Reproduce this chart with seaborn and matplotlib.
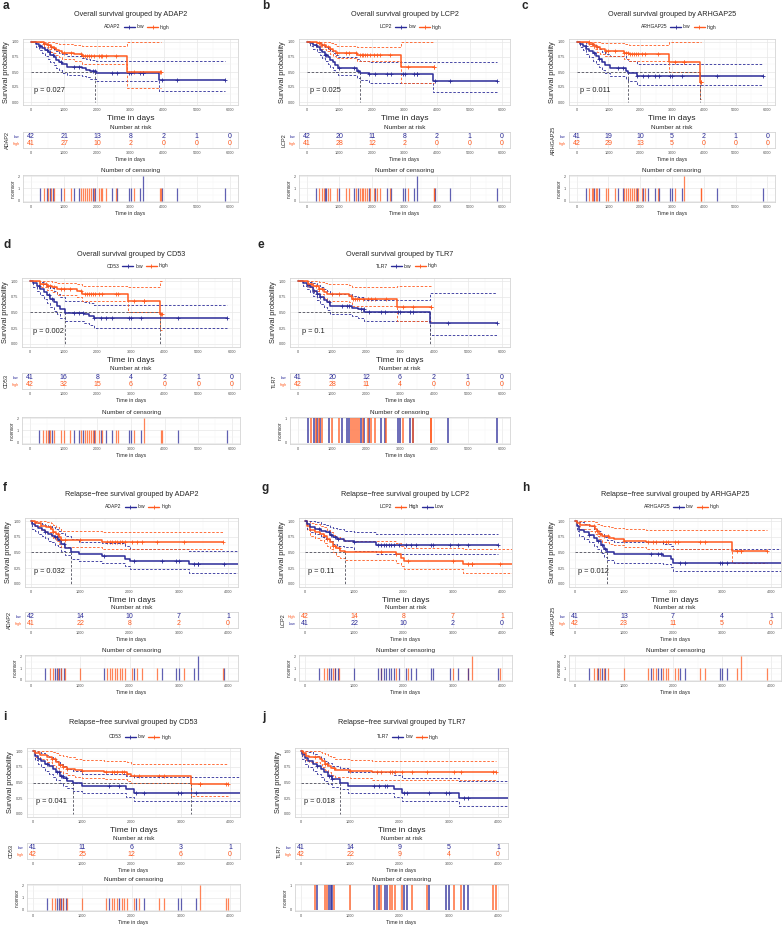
import numpy as np
import pandas as pd
import matplotlib
matplotlib.use("Agg")
import matplotlib.pyplot as plt
import seaborn as sns
from collections import Counter
from matplotlib.lines import Line2D
from matplotlib.ticker import MultipleLocator

LOW_COLOR = "#2B2B98"
HIGH_COLOR = "#FF5A1F"
MEDIAN_COLOR = "#4D4D5A"

OS_TICKS = [0, 1000, 2000, 3000, 4000, 5000, 6000]
RFS_TICKS = [0, 1000, 2000, 3000, 4000]

# ---------------- a: overall survival, ADAP2 ----------------
A_LOW_T = [0, 150, 250, 330, 420, 500, 580, 680, 760, 850, 950, 1080, 1550, 1650, 1780, 1950, 3870]
A_LOW_S = [1, .97, .93, .90, .87, .83, .79, .75, .70, .66, .63, .58, .56, .54, .52, .49, .37]
A_LOW_UP = [1, 1, 1, .99, .97, .95, .92, .89, .85, .82, .80, .76, .74, .72, .70, .69, .69]
A_LOW_LO = [1, .92, .86, .81, .77, .72, .67, .62, .57, .53, .49, .45, .43, .41, .39, .35, .18]
A_LOW_CENS = [280, 480, 560, 650, 920, 1300, 1450, 1860, 1940, 2450, 2600, 2950, 3000, 3300, 3380, 3380, 3950, 4400, 5850]
A_HIGH_T = [0, 380, 500, 600, 680, 760, 850, 930, 1300, 1530, 2880]
A_HIGH_S = [1, .97, .95, .92, .90, .87, .85, .82, .80, .77, .50]
A_HIGH_UP = [1, 1, 1, 1, .99, .98, .97, .96, .95, .93, 1.0]
A_HIGH_LO = [1, .91, .88, .84, .81, .78, .75, .72, .69, .63, .23]
A_HIGH_CENS = [380, 520, 600, 700, 1000, 1200, 1500, 1560, 1620, 1680, 1740, 1800, 1900, 2050, 2100, 2150, 2250, 2550, 3100, 3900, 3920]
A_RISK_LOW = [42, 21, 13, 8, 2, 1, 0]
A_RISK_HIGH = [41, 27, 10, 2, 0, 0, 0]

# ---------------- b: overall survival, LCP2 ----------------
B_LOW_T = [0, 100, 200, 300, 400, 480, 560, 640, 720, 800, 880, 960, 1550, 1620, 1900, 3870]
B_LOW_S = [1, .98, .95, .91, .87, .83, .79, .75, .70, .66, .62, .57, .52, .49, .46, .35]
B_LOW_UP = [1, 1, 1, 1, .98, .95, .92, .89, .85, .82, .79, .75, .71, .69, .66, .66]
B_LOW_LO = [1, .94, .89, .83, .78, .73, .68, .63, .58, .54, .50, .45, .40, .37, .32, .17]
B_LOW_CENS = [280, 560, 600, 1000, 1450, 1560, 1900, 2100, 2450, 2600, 2950, 3000, 3300, 3380, 3380, 3950, 4400, 5850]
B_HIGH_T = [0, 300, 450, 600, 700, 800, 900, 1550, 2880]
B_HIGH_S = [1, .98, .95, .92, .88, .85, .82, .79, .59]
B_HIGH_UP = [1, 1, 1, 1, .98, .96, .94, .92, 1.0]
B_HIGH_LO = [1, .94, .89, .85, .80, .77, .73, .69, .32]
B_HIGH_CENS = [380, 480, 520, 650, 700, 920, 1200, 1300, 1500, 1620, 1680, 1740, 1800, 1860, 1940, 2050, 2150, 2250, 2550, 3100, 3900, 3920]
B_RISK_LOW = [42, 20, 11, 8, 2, 1, 0]
B_RISK_HIGH = [41, 28, 12, 2, 0, 0, 0]

# ---------------- c: overall survival, ARHGAP25 ----------------
C_LOW_T = [0, 100, 200, 300, 400, 500, 600, 700, 800, 900, 1050, 1550, 1620, 1900]
C_LOW_S = [1, .97, .93, .89, .85, .81, .77, .72, .67, .62, .57, .52, .49, .44]
C_LOW_UP = [1, 1, 1, .99, .97, .95, .92, .88, .84, .80, .76, .72, .69, .64]
C_LOW_LO = [1, .92, .86, .80, .75, .69, .64, .59, .53, .48, .43, .38, .35, .28]
C_LOW_CENS = [280, 560, 700, 1300, 1450, 1900, 2100, 2250, 2450, 2600, 2950, 3000, 3300, 4400, 5850]
C_HIGH_T = [0, 400, 550, 650, 750, 900, 1500, 1650, 2900, 3870]
C_HIGH_S = [1, .97, .94, .91, .88, .85, .82, .80, .66, .33]
C_HIGH_UP = [1, 1, 1, 1, .99, .98, .96, .95, 1.0, 1.0]
C_HIGH_LO = [1, .93, .88, .84, .80, .76, .72, .69, .50, .05]
C_HIGH_CENS = [380, 480, 520, 600, 650, 920, 1000, 1200, 1500, 1560, 1620, 1680, 1740, 1800, 1860, 1940, 2050, 2150, 2550, 3100, 3380, 3380, 3900, 3920]
C_RISK_LOW = [41, 19, 10, 5, 2, 1, 0]
C_RISK_HIGH = [42, 29, 13, 5, 0, 0, 0]

# ---------------- d: overall survival, CD53 ----------------
D_LOW_T = [0, 100, 200, 300, 400, 500, 600, 700, 800, 900, 1050, 1600, 1750, 1900]
D_LOW_S = [1, .97, .93, .88, .83, .78, .72, .66, .61, .55, .49, .47, .44, .41]
D_LOW_UP = [1, 1, 1, .99, .96, .93, .89, .84, .79, .74, .69, .67, .65, .62]
D_LOW_LO = [1, .91, .85, .78, .71, .65, .59, .53, .47, .41, .36, .33, .30, .26]
D_LOW_CENS = [280, 560, 650, 1300, 1450, 1560, 1900, 2100, 2250, 2450, 2950, 3000, 3300, 4400, 5850]
D_HIGH_T = [0, 300, 500, 650, 800, 1400, 1550, 2900, 3870]
D_HIGH_S = [1, .96, .93, .90, .87, .84, .80, .68, .47]
D_HIGH_UP = [1, 1, 1, .99, .97, .95, .93, .90, 1.0]
D_HIGH_LO = [1, .91, .86, .82, .78, .74, .68, .50, .22]
D_HIGH_CENS = [380, 480, 520, 600, 700, 920, 1000, 1200, 1500, 1620, 1680, 1740, 1800, 1860, 1940, 2050, 2150, 2550, 2600, 3100, 3380, 3380, 3900, 3920]
D_RISK_LOW = [41, 16, 8, 4, 2, 1, 0]
D_RISK_HIGH = [42, 32, 15, 6, 0, 0, 0]

# ---------------- e: overall survival, TLR7 ----------------
E_LOW_T = [0, 150, 250, 350, 450, 550, 650, 750, 850, 950, 1600, 1750, 1950, 3870]
E_LOW_S = [1, .97, .94, .90, .85, .80, .75, .70, .66, .60, .57, .55, .51, .34]
E_LOW_UP = [1, 1, 1, .99, .97, .94, .91, .87, .84, .79, .76, .74, .70, .81]
E_LOW_LO = [1, .92, .87, .82, .76, .70, .64, .59, .54, .48, .44, .42, .36, .14]
E_LOW_CENS = [280, 480, 560, 650, 920, 1300, 1450, 1500, 1860, 1940, 2100, 2450, 2550, 2950, 3000, 3300, 3380, 4400, 5850]
E_HIGH_T = [0, 300, 450, 600, 750, 850, 1500, 1600, 2900]
E_HIGH_S = [1, .96, .92, .87, .83, .80, .77, .72, .58]
E_HIGH_UP = [1, 1, 1, .99, .97, .95, .94, .91, .93]
E_HIGH_LO = [1, .91, .85, .79, .73, .69, .66, .61, .37]
E_HIGH_CENS = [380, 520, 600, 700, 1000, 1200, 1560, 1620, 1680, 1740, 1800, 1900, 2050, 2150, 2250, 2600, 3100, 3380, 3900, 3920]
E_RISK_LOW = [41, 20, 12, 6, 2, 1, 0]
E_RISK_HIGH = [42, 28, 11, 4, 0, 0, 0]

# ---------------- f: relapse-free survival, ADAP2 ----------------
F_LOW_T = [0, 30, 80, 150, 220, 280, 350, 420, 480, 550, 620, 700, 820, 970, 1450, 1900, 2000, 3200]
F_LOW_S = [1, .95, .92, .89, .86, .83, .80, .77, .74, .70, .64, .57, .50, .47, .45, .40, .36, .31]
F_LOW_UP = [1, 1, .99, .97, .96, .94, .92, .90, .88, .85, .81, .76, .71, .67, .65, .60, .56, .52]
F_LOW_LO = [1, .88, .84, .80, .76, .73, .69, .66, .62, .58, .53, .46, .40, .36, .34, .28, .23, .17]
F_LOW_CENS = [280, 480, 520, 560, 600, 680, 1480, 2100, 2650, 2950, 3000, 3300, 3380, 3380, 3920, 4400]
F_HIGH_T = [0, 80, 200, 300, 400, 450, 500, 560, 620, 1450]
F_HIGH_S = [1, .97, .93, .90, .87, .83, .79, .75, .70, .67]
F_HIGH_UP = [1, 1, 1, .99, .97, .94, .91, .88, .85, .83]
F_HIGH_LO = [1, .92, .86, .82, .78, .73, .69, .64, .59, .55]
F_HIGH_CENS = [380, 450, 540, 620, 700, 1000, 1550, 1600, 1650, 1700, 1750, 1800, 1850, 1900, 2050, 2150, 2250, 2550, 3100, 3900]
F_RISK_LOW = [42, 14, 10, 7, 1]
F_RISK_HIGH = [41, 22, 8, 2, 0]

# ---------------- g: relapse-free survival, LCP2 (High / Low) ----------------
G_LOW_T = [0, 40, 100, 200, 320, 420, 500, 560, 650, 800, 1000, 1450]
G_LOW_S = [1, .95, .91, .88, .85, .82, .78, .75, .72, .69, .66, .62]
G_LOW_UP = [1, 1, 1, .98, .96, .94, .91, .89, .87, .85, .82, .79]
G_LOW_LO = [1, .88, .83, .79, .75, .72, .68, .64, .61, .58, .53, .48]
G_LOW_CENS = [280, 480, 520, 600, 680, 1000, 1480, 1550, 1600, 1650, 1700, 1750, 1800, 1900, 2050, 2150, 2250, 2550, 2600, 2950, 3100, 3300, 3920]
G_HIGH_T = [0, 40, 100, 200, 300, 380, 440, 500, 560, 640, 720, 820, 1850, 1950, 2000, 3200]
G_HIGH_S = [1, .93, .86, .83, .80, .76, .71, .66, .61, .57, .53, .50, .47, .42, .37, .31]
G_HIGH_UP = [1, 1, .97, .95, .93, .90, .86, .82, .78, .75, .71, .68, .65, .61, .57, .56]
G_HIGH_LO = [1, .86, .77, .73, .70, .65, .60, .55, .50, .45, .41, .38, .34, .29, .24, .17]
G_HIGH_CENS = [380, 450, 560, 620, 700, 1550, 1850, 2100, 3000, 3300, 3380, 3380, 3950, 4400]
G_RISK_HIGH = [42, 14, 8, 7, 1]
G_RISK_LOW = [41, 22, 10, 2, 0]

# ---------------- h: relapse-free survival, ARHGAP25 ----------------
H_LOW_T = [0, 40, 80, 180, 280, 380, 460, 530, 600, 660, 800, 1800, 1950, 2000]
H_LOW_S = [1, .92, .86, .82, .78, .73, .68, .62, .56, .50, .47, .45, .40, .33]
H_LOW_UP = [1, 1, .98, .95, .92, .88, .84, .79, .74, .70, .66, .64, .60, .55]
H_LOW_LO = [1, .85, .77, .72, .67, .61, .56, .49, .43, .38, .33, .32, .27, .20]
H_LOW_CENS = [280, 480, 560, 620, 1550, 1700, 1750, 2150, 2250, 2950, 3000, 3100, 4400]
H_HIGH_T = [0, 50, 100, 300, 400, 450, 500, 560, 700, 800, 1000, 1450, 3200]
H_HIGH_S = [1, .97, .94, .92, .88, .85, .80, .76, .73, .71, .69, .66, .53]
H_HIGH_UP = [1, 1, 1, 1, .98, .96, .94, .92, .90, .89, .88, .86, .86]
H_HIGH_LO = [1, .92, .87, .84, .80, .76, .71, .67, .64, .62, .58, .55, .33]
H_HIGH_CENS = [380, 450, 520, 600, 680, 1000, 1480, 1600, 1650, 1800, 1850, 1900, 2050, 2100, 2550, 2650, 3300, 3380, 3380, 3920]
H_RISK_LOW = [41, 13, 7, 4, 1]
H_RISK_HIGH = [42, 23, 11, 5, 0]

# ---------------- i: relapse-free survival, CD53 ----------------
I_LOW_T = [0, 40, 100, 160, 250, 330, 400, 460, 540, 620, 700, 820, 1000, 1880, 2050]
I_LOW_S = [1, .93, .88, .85, .80, .76, .71, .66, .61, .57, .53, .49, .45, .40, .34]
I_LOW_UP = [1, 1, .99, .97, .94, .91, .88, .84, .80, .76, .72, .68, .64, .60, .58]
I_LOW_LO = [1, .86, .79, .75, .69, .64, .59, .54, .49, .45, .41, .37, .33, .27, .20]
I_LOW_CENS = [280, 480, 520, 560, 600, 680, 1550, 1750, 2100, 2250, 2950, 3000, 3300, 4400]
I_HIGH_T = [0, 50, 150, 280, 380, 460, 530, 600, 700, 850, 1000, 1450, 1900, 1980, 3200]
I_HIGH_S = [1, .97, .94, .91, .87, .82, .78, .75, .72, .70, .68, .66, .63, .60, .48]
I_HIGH_UP = [1, 1, 1, 1, .99, .97, .94, .92, .90, .88, .86, .84, .82, .80, .80]
I_HIGH_LO = [1, .91, .87, .83, .78, .73, .68, .65, .62, .59, .57, .55, .52, .49, .29]
I_HIGH_CENS = [380, 450, 540, 620, 700, 1000, 1480, 1600, 1650, 1700, 1800, 1850, 1900, 2050, 2150, 2550, 2650, 3380, 3380, 3920, 3950]
I_RISK_LOW = [41, 11, 6, 3, 1]
I_RISK_HIGH = [42, 25, 12, 6, 0]

# ---------------- j: relapse-free survival, TLR7 ----------------
J_LOW_T = [0, 30, 90, 150, 240, 330, 410, 470, 550, 640, 800, 950, 1880, 2050, 3200]
J_LOW_S = [1, .95, .89, .85, .80, .76, .71, .66, .61, .56, .50, .45, .40, .34, .26]
J_LOW_UP = [1, 1, 1, .98, .95, .92, .89, .85, .81, .77, .73, .67, .62, .57, .53]
J_LOW_LO = [1, .88, .80, .74, .69, .63, .58, .53, .48, .43, .39, .33, .27, .21, .12]
J_LOW_CENS = [330, 560, 600, 640, 1480, 1580, 1700, 1750, 2100, 2150, 2600, 2950, 3000, 3300, 3380, 4400]
J_HIGH_T = [0, 40, 100, 160, 380, 430, 480, 540, 600, 700, 1000, 1450]
J_HIGH_S = [1, .97, .93, .90, .88, .84, .80, .76, .73, .70, .69, .67]
J_HIGH_UP = [1, 1, 1, 1, .99, .97, .95, .92, .90, .88, .86, .84]
J_HIGH_LO = [1, .92, .86, .82, .79, .74, .70, .66, .62, .59, .57, .54]
J_HIGH_CENS = [280, 480, 520, 680, 1000, 1550, 1620, 1800, 1850, 1900, 2050, 2250, 2550, 3100, 3250, 3900, 3950]
J_RISK_LOW = [41, 14, 9, 5, 1]
J_RISK_HIGH = [42, 22, 9, 4, 0]

P_VALUES = ["0.027", "0.025", "0.011", "0.002", "0.1", "0.032", "0.11", "0.012", "0.041", "0.018"]
MEDIANS = [[1940], [1620], [1620, 3870], [1050, 3870], [3870], [820], [820], [660], [820, 3200], [800]]
GENES = ["ADAP2", "LCP2", "ARHGAP25", "CD53", "TLR7", "ADAP2", "LCP2", "ARHGAP25", "CD53", "TLR7"]
LETTERS = list("abcdefghij")


def grp(label, color, t, s, up, lo, cens, risk):
    return dict(label=label, color=color, t=t, s=s, up=up, lo=lo, cens=cens, risk=risk)


GROUPS = [
    [grp("low", LOW_COLOR, A_LOW_T, A_LOW_S, A_LOW_UP, A_LOW_LO, A_LOW_CENS, A_RISK_LOW),
     grp("high", HIGH_COLOR, A_HIGH_T, A_HIGH_S, A_HIGH_UP, A_HIGH_LO, A_HIGH_CENS, A_RISK_HIGH)],
    [grp("low", LOW_COLOR, B_LOW_T, B_LOW_S, B_LOW_UP, B_LOW_LO, B_LOW_CENS, B_RISK_LOW),
     grp("high", HIGH_COLOR, B_HIGH_T, B_HIGH_S, B_HIGH_UP, B_HIGH_LO, B_HIGH_CENS, B_RISK_HIGH)],
    [grp("low", LOW_COLOR, C_LOW_T, C_LOW_S, C_LOW_UP, C_LOW_LO, C_LOW_CENS, C_RISK_LOW),
     grp("high", HIGH_COLOR, C_HIGH_T, C_HIGH_S, C_HIGH_UP, C_HIGH_LO, C_HIGH_CENS, C_RISK_HIGH)],
    [grp("low", LOW_COLOR, D_LOW_T, D_LOW_S, D_LOW_UP, D_LOW_LO, D_LOW_CENS, D_RISK_LOW),
     grp("high", HIGH_COLOR, D_HIGH_T, D_HIGH_S, D_HIGH_UP, D_HIGH_LO, D_HIGH_CENS, D_RISK_HIGH)],
    [grp("low", LOW_COLOR, E_LOW_T, E_LOW_S, E_LOW_UP, E_LOW_LO, E_LOW_CENS, E_RISK_LOW),
     grp("high", HIGH_COLOR, E_HIGH_T, E_HIGH_S, E_HIGH_UP, E_HIGH_LO, E_HIGH_CENS, E_RISK_HIGH)],
    [grp("low", LOW_COLOR, F_LOW_T, F_LOW_S, F_LOW_UP, F_LOW_LO, F_LOW_CENS, F_RISK_LOW),
     grp("high", HIGH_COLOR, F_HIGH_T, F_HIGH_S, F_HIGH_UP, F_HIGH_LO, F_HIGH_CENS, F_RISK_HIGH)],
    [grp("High", HIGH_COLOR, G_HIGH_T, G_HIGH_S, G_HIGH_UP, G_HIGH_LO, G_HIGH_CENS, G_RISK_HIGH),
     grp("Low", LOW_COLOR, G_LOW_T, G_LOW_S, G_LOW_UP, G_LOW_LO, G_LOW_CENS, G_RISK_LOW)],
    [grp("low", LOW_COLOR, H_LOW_T, H_LOW_S, H_LOW_UP, H_LOW_LO, H_LOW_CENS, H_RISK_LOW),
     grp("high", HIGH_COLOR, H_HIGH_T, H_HIGH_S, H_HIGH_UP, H_HIGH_LO, H_HIGH_CENS, H_RISK_HIGH)],
    [grp("low", LOW_COLOR, I_LOW_T, I_LOW_S, I_LOW_UP, I_LOW_LO, I_LOW_CENS, I_RISK_LOW),
     grp("high", HIGH_COLOR, I_HIGH_T, I_HIGH_S, I_HIGH_UP, I_HIGH_LO, I_HIGH_CENS, I_RISK_HIGH)],
    [grp("low", LOW_COLOR, J_LOW_T, J_LOW_S, J_LOW_UP, J_LOW_LO, J_LOW_CENS, J_RISK_LOW),
     grp("high", HIGH_COLOR, J_HIGH_T, J_HIGH_S, J_HIGH_UP, J_HIGH_LO, J_HIGH_CENS, J_RISK_HIGH)],
]

# layout in pixels: rows (letter, title, legend, km top/bottom, risk top/bottom, cens top/bottom)
W, H = 783, 925
ROWS = [
    dict(letter=6, title=15, legend=27, km=(39, 105), risk=(132, 148), cens=(175, 202)),
    dict(letter=245, title=254, legend=266, km=(278, 347), risk=(373, 389), cens=(417, 444)),
    dict(letter=488, title=494, legend=507, km=(518, 587), risk=(612, 628), cens=(655, 681)),
    dict(letter=717, title=723, legend=737, km=(748, 817), risk=(843, 859), cens=(884, 911)),
]
PANEL_POS = [  # (row, x0, x1, letter x)
    (0, 23, 238, 3), (0, 299, 510, 262), (0, 569, 775, 522),
    (1, 22, 240, 3), (1, 290, 510, 258),
    (2, 25, 238, 3), (2, 299, 512, 262), (2, 569, 781, 522),
    (3, 27, 240, 3), (3, 295, 508, 262),
]

sns.set_theme(style="whitegrid")
plt.rcParams["font.family"] = ["Liberation Sans", "DejaVu Sans"]

fig = plt.figure(figsize=(W / 100, H / 100), dpi=100)
fig.patch.set_facecolor("white")


def px_axes(x0, x1, y0, y1):
    return fig.add_axes([x0 / W, 1 - y1 / H, (x1 - x0) / W, (y1 - y0) / H])


def style_axes(ax, ticks, xlim):
    ax.set_facecolor("white")
    for sp in ax.spines.values():
        sp.set_color("#D4D4D4")
        sp.set_linewidth(0.6)
    ax.set_xlim(xlim)
    ax.set_xticks(ticks)
    ax.xaxis.set_minor_locator(MultipleLocator(500))
    ax.grid(True, which="major", color="#E8E8E8", lw=0.5)
    ax.grid(True, which="minor", color="#F3F3F3", lw=0.3)
    ax.tick_params(which="major", length=1.5, width=0.4, color="#A0A0A0",
                   labelsize=2.7, labelcolor="#4D4D4D", pad=1)
    ax.tick_params(which="minor", length=0)


def step_value(t, s, x):
    return s[np.searchsorted(t, x, side="right") - 1]


for k in range(10):
    row = ROWS[PANEL_POS[k][0]]
    x0, x1, lx = PANEL_POS[k][1:]
    groups = GROUPS[k]
    is_os = k < 5
    ticks = OS_TICKS if is_os else RFS_TICKS
    xlim = (-240, 6240) if is_os else (-120, 4200)
    cx = (x0 + x1) / 2

    title = ("Overall survival grouped by " if is_os else "Relapse\u2212free survival grouped by ") + GENES[k]
    fig.text(lx / W, 1 - row["letter"] / H, LETTERS[k], fontsize=8.5, fontweight="bold",
             va="center", ha="left")
    fig.text(cx / W, 1 - row["title"] / H, title, fontsize=5.2, va="center", ha="center")

    # ---- survival curves ----
    ax = px_axes(x0, x1, *row["km"])
    style_axes(ax, ticks, xlim)
    ax.set_ylim(-0.05, 1.05)
    ax.set_yticks([0, 0.25, 0.5, 0.75, 1.0])
    ax.set_yticklabels(["0.00", "0.25", "0.50", "0.75", "1.00"])
    ax.yaxis.set_minor_locator(MultipleLocator(0.125))

    for g in groups:
        end = max(g["cens"] + [g["t"][-1]])
        df = pd.DataFrame({"time": g["t"] + [end], "surv": g["s"] + [g["s"][-1]],
                           "upper": g["up"] + [g["up"][-1]], "lower": g["lo"] + [g["lo"][-1]]})
        for col in ["upper", "lower"]:
            sns.lineplot(data=df, x="time", y=col, ax=ax, color=g["color"], lw=0.6,
                         linestyle=(0, (3, 2)), drawstyle="steps-post", estimator=None,
                         sort=False, legend=False)

    med = MEDIANS[k]
    ax.plot([0, max(med)], [0.5, 0.5], color=MEDIAN_COLOR, lw=0.6, ls=(0, (3, 2)))
    for m in med:
        ax.plot([m, m], [0.5, 0], color=MEDIAN_COLOR, lw=0.6, ls=(0, (3, 2)))

    for g in groups:
        end = max(g["cens"] + [g["t"][-1]])
        df = pd.DataFrame({"time": g["t"] + [end], "surv": g["s"] + [g["s"][-1]]})
        sns.lineplot(data=df, x="time", y="surv", ax=ax, color=g["color"], lw=1.1,
                     drawstyle="steps-post", estimator=None, sort=False, legend=False)
        cy = [step_value(g["t"], g["s"], c) for c in g["cens"]]
        sns.scatterplot(x=g["cens"], y=cy, ax=ax, color=g["color"], marker="+", s=9,
                        linewidth=0.6, legend=False)

    ax.text(100 if is_os else 60, 0.19, "p = " + P_VALUES[k], fontsize=5.3, va="center", ha="left")
    ax.set_xlabel("Time in days", fontsize=6, labelpad=1.5)
    ax.set_ylabel("Survival probability", fontsize=5.3, labelpad=1.5)

    handles = [Line2D([], [], color="none")] + [
        Line2D([], [], color=g["color"], lw=1.0, marker="+", markersize=3, markeredgewidth=0.6)
        for g in groups]
    fig.legend(handles, [GENES[k]] + [g["label"] for g in groups], loc="center",
               bbox_to_anchor=(cx / W, 1 - row["legend"] / H), ncol=3, frameon=False,
               fontsize=3.6, handlelength=2.2, handletextpad=0.4, columnspacing=0.6,
               borderpad=0)

    # ---- number at risk ----
    rax = px_axes(x0, x1, *row["risk"])
    style_axes(rax, ticks, xlim)
    rax.grid(False, axis="y", which="both")
    rax.set_ylim(-0.65, 1.65)
    for i, g in enumerate(groups):
        y = 1 - i
        for tt, n in zip(ticks, g["risk"]):
            rax.text(tt, y, str(n), color=g["color"], fontsize=5, ha="center", va="center")
    rax.set_yticks([1, 0])
    rax.set_yticklabels([g["label"] for g in groups])
    for lbl, g in zip(rax.get_yticklabels(), groups):
        lbl.set_color(g["color"])
    rax.set_title("Number at risk", fontsize=4.6, pad=2)
    rax.set_xlabel("Time in days", fontsize=3.8, labelpad=0.8)
    rax.set_ylabel(GENES[k], fontsize=4, labelpad=1.5)

    # ---- number of censoring ----
    cax = px_axes(x0, x1, *row["cens"])
    style_axes(cax, ticks, xlim)
    top = 1
    for g in groups:
        counts = Counter(g["cens"])
        top = max(top, max(counts.values()))
        cax.vlines(list(counts.keys()), 0, list(counts.values()), color=g["color"],
                   lw=1.3 if k in (4, 9) else 0.9, alpha=0.75)
    cax.set_ylim(-0.05 * top, top * 1.05)
    cax.set_yticks(list(range(top + 1)))
    cax.yaxis.set_minor_locator(MultipleLocator(0.5))
    cax.set_title("Number of censoring", fontsize=4.6, pad=2)
    cax.set_xlabel("Time in days", fontsize=3.8, labelpad=0.8)
    cax.set_ylabel("n.censor", fontsize=3.4, labelpad=1.5)

fig.savefig("out.png", dpi=100, facecolor="white")
